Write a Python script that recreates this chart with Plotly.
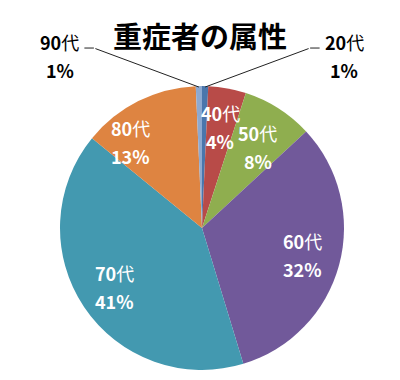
import numpy as np
import plotly.graph_objects as go

labels = ["20代", "40代", "50代", "60代", "70代", "80代", "90代"]
values = [0.7, 4.3, 8.1, 32.2, 40.6, 13.4, 0.7]
colors = ["#4A76AC", "#B84B48", "#8FAE4F", "#71599A", "#4399B0", "#DE8441", "#8DA9D0"]
outside = [True, False, False, False, False, False, True]

title = "重症者の属性"

# label placement styles (fraction of radius, angle tweak in degrees)
label_r = [0, 0.72, 0.69, 0.73, 0.74, 0.79, 0]
label_dang = [0, 0, 2, 0, 0, -13, 0]

font_family = "Noto Sans CJK JP"
W, H = 400, 380
cx_px, cy_px, R_px = 202, 228, 142

fig = go.Figure()
fig.add_trace(go.Pie(
    labels=labels, values=values, sort=False, direction="clockwise", rotation=0,
    marker=dict(colors=colors, line=dict(width=0)),
    textinfo="none", hoverinfo="label+percent", showlegend=False,
    domain=dict(x=[(cx_px - R_px) / W, (cx_px + R_px) / W],
                y=[1 - (cy_px + R_px) / H, 1 - (cy_px - R_px) / H]),
))

vals = np.array(values, dtype=float)
pct = vals / vals.sum()
mid = (np.cumsum(pct) - pct / 2) * 2 * np.pi


def px(x, y):
    return x / W, 1 - y / H


def fmt_label(lab):
    # digits bold, kanji regular weight (as in the reference)
    num = lab.rstrip("代")
    return f"<b>{num}</b>代" if lab.endswith("代") else f"<b>{lab}</b>"


def two_line(x, y, l1, l2, color, size=18, gap=28):
    out = []
    for t, yy in ((fmt_label(l1), y - gap / 2), (f"<b>{l2}</b>", y + gap / 2)):
        xp, yp = px(x, yy)
        out.append(dict(x=xp, y=yp, xref="paper", yref="paper", text=t,
                        showarrow=False, xanchor="center", yanchor="middle",
                        font=dict(family=font_family, size=size, color=color)))
    return out


annotations = []
for i, (lab, p, ang) in enumerate(zip(labels, pct, mid)):
    ptxt = f"{round(p * 100):.0f}%"
    if not outside[i]:
        a = ang + np.radians(label_dang[i])
        r = label_r[i] * R_px
        x = cx_px + r * np.sin(a)
        y = cy_px - r * np.cos(a)
        annotations += two_line(x, y, lab, ptxt, "white")
    else:
        tip_x = cx_px + R_px * np.sin(ang)
        tip_y = cy_px - R_px * np.cos(ang) + 1
        side = 1 if np.sin(ang) > 0 else -1
        dx, dy = side * 105, -39
        tx, ty = px(tip_x, tip_y)
        annotations.append(dict(x=tx, y=ty, xref="paper", yref="paper", text="",
                                showarrow=True, arrowhead=0, arrowwidth=1,
                                arrowcolor="#222", ax=dx, ay=dy, standoff=0,
                                xanchor="center", yanchor="middle"))
        ex, ey = tip_x + dx, tip_y + dy
        exp_, eyp = px(ex, ey)
        annotations.append(dict(x=exp_, y=eyp, xref="paper", yref="paper", text="",
                                showarrow=True, arrowhead=0, arrowwidth=1,
                                arrowcolor="#222", ax=side * 11, ay=0, standoff=0))
        annotations += two_line(ex + side * 34, ey + 8, lab, ptxt, "black")

tx, ty = px(200, 35)
annotations.append(dict(x=tx, y=ty, xref="paper", yref="paper",
                        text=f"<b>{title}</b>", showarrow=False,
                        xanchor="center", yanchor="middle",
                        font=dict(family=font_family, size=29, color="black")))

fig.update_layout(width=W, height=H, margin=dict(l=0, r=0, t=0, b=0),
                  paper_bgcolor="white", plot_bgcolor="white",
                  annotations=annotations)

fig.write_html("out.html")
